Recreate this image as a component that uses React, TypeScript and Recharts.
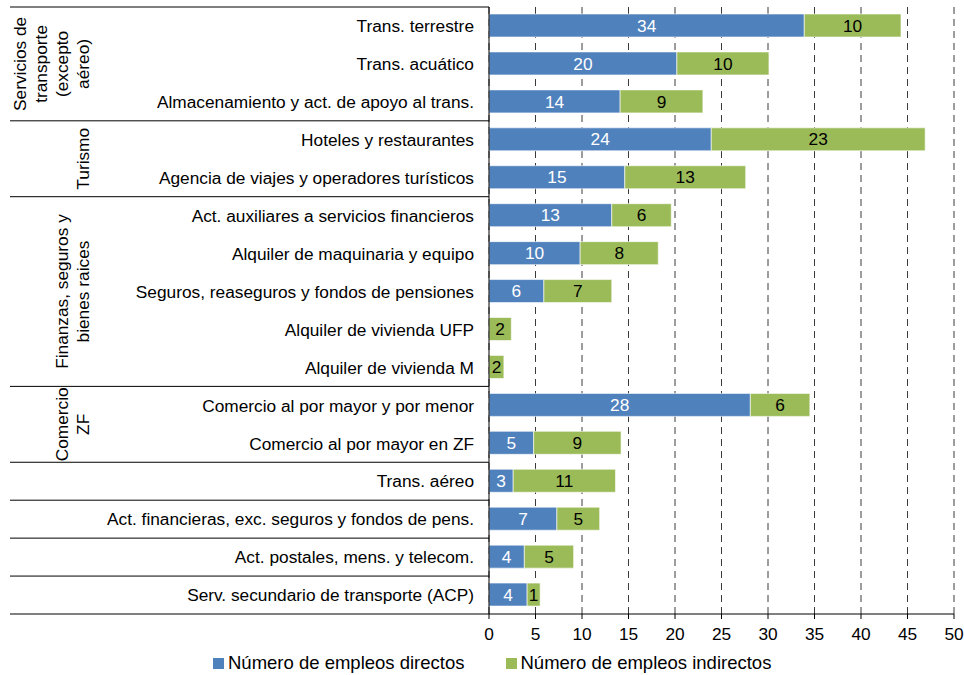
import React from 'react';
import { BarChart, Bar, XAxis, YAxis, CartesianGrid, LabelList } from 'recharts';

const categories = [
  'Trans. terrestre',
  'Trans. acuático',
  'Almacenamiento y act. de apoyo al trans.',
  'Hoteles y restaurantes',
  'Agencia de viajes y operadores turísticos',
  'Act. auxiliares a servicios financieros',
  'Alquiler de maquinaria y equipo ',
  'Seguros, reaseguros y fondos de pensiones',
  'Alquiler de vivienda UFP',
  'Alquiler de vivienda M',
  'Comercio al por mayor y por menor',
  'Comercio al por mayor en ZF',
  'Trans. aéreo',
  'Act. financieras, exc. seguros y fondos de pens.',
  'Act. postales, mens. y telecom.',
  'Serv. secundario de transporte (ACP)',
];
const directos = [33.9, 20.2, 14.1, 23.9, 14.6, 13.2, 9.8, 5.9, 0, 0, 28.1, 4.8, 2.6, 7.3, 3.8, 4.1];
const indirectos = [10.4, 9.9, 8.9, 23.0, 13.0, 6.4, 8.4, 7.3, 2.4, 1.6, 6.4, 9.4, 11.0, 4.6, 5.3, 1.4];

// outer level of the category axis
const groupLabels = [
  ['Servicios de', 'transporte', '(excepto', 'aéreo)'],
  ['Turismo'],
  ['Finanzas, seguros y', 'bienes raices'],
  ['Comercio', 'ZF'],
  [],
  [],
  [],
  [],
];
const groupSizes = [3, 2, 5, 2, 1, 1, 1, 1];

const xTicks = [0, 5, 10, 15, 20, 25, 30, 35, 40, 45, 50];
const seriesNames = ['Número de empleos directos', 'Número de empleos indirectos'];

const BLUE = '#4F81BD';
const GREEN = '#9BBB59';

const W = 964;
const H = 675;
const MARGIN = { top: 7, right: 10, bottom: 31, left: 0 };
const Y_AXIS_W = 489;
const X_AXIS_H = 30;
const PLOT_H = H - MARGIN.top - MARGIN.bottom - X_AXIS_H;
const BAND = PLOT_H / categories.length;
const LINE_LEFT = 10;
const GROUP_BASE_X = 89;
const GROUP_LH = 21;
const FONT = 17.3;

const data = categories.map((name, i) => ({
  name,
  directos: directos[i],
  indirectos: indirectos[i],
}));

// index of first row of each group
const groupStart: number[] = [];
groupSizes.reduce((acc, n) => {
  groupStart.push(acc);
  return acc + n;
}, 0);

function CategoryTick(props: any) {
  const { x, y, payload } = props;
  const i: number = payload?.index ?? props.index;
  const gi = groupStart.findIndex((s, k) => i >= s && i < s + groupSizes[k]);
  const isFirst = groupStart[gi] === i;
  const isLast = groupStart[gi] + groupSizes[gi] - 1 === i;
  const lines = groupLabels[gi] ?? [];
  const groupCenter = y - BAND / 2 + (groupSizes[gi] * BAND) / 2;

  return (
    <g>
      <text x={x} y={y} dy="0.36em" textAnchor="end" fontSize={FONT} fill="#000">
        {payload.value}
      </text>
      {i === 0 && (
        <line x1={LINE_LEFT} x2={Y_AXIS_W} y1={y - BAND / 2} y2={y - BAND / 2} stroke="#000" strokeWidth={1} />
      )}
      {isLast && (
        <line x1={LINE_LEFT} x2={Y_AXIS_W} y1={y + BAND / 2} y2={y + BAND / 2} stroke="#000" strokeWidth={1} />
      )}
      {isFirst && lines.length > 0 && (
        <text
          transform={`translate(${GROUP_BASE_X}, ${groupCenter}) rotate(-90)`}
          textAnchor="middle"
          fontSize={FONT}
          fill="#000"
        >
          {lines.map((l, k) => (
            <tspan key={k} x={0} dy={k === 0 ? -(lines.length - 1) * GROUP_LH : GROUP_LH}>
              {l}
            </tspan>
          ))}
        </text>
      )}
    </g>
  );
}

const fmt = (v: any) => (Number(v) > 0.5 ? Math.round(Number(v)) : '');

export default function App() {
  return (
    <div
      style={{
        position: 'absolute',
        left: 0,
        top: 0,
        width: W,
        height: H,
        background: '#fff',
        fontFamily: '"Liberation Sans", Arial, sans-serif',
      }}
    >
      <BarChart width={W} height={H} data={data} layout="vertical" margin={MARGIN} barSize={23}>
        <CartesianGrid horizontal={false} stroke="#3a3a3a" strokeDasharray="7 5" />
        <XAxis
          type="number"
          domain={[0, 50]}
          ticks={xTicks}
          interval={0}
          height={X_AXIS_H}
          axisLine={{ stroke: '#000' }}
          tickLine={{ stroke: '#000' }}
          tickSize={5}
          tickMargin={9}
          tick={{ fontSize: FONT, fill: '#000' }}
        />
        <YAxis
          type="category"
          dataKey="name"
          width={Y_AXIS_W}
          interval={0}
          axisLine={{ stroke: '#000' }}
          tickLine={false}
          tickSize={0}
          tickMargin={15}
          tick={<CategoryTick />}
        />
        <Bar dataKey="directos" stackId="a" fill={BLUE} stroke="#fff" strokeWidth={0.6} isAnimationActive={false}>
          <LabelList dataKey="directos" position="center" fill="#fff" fontSize={FONT} formatter={fmt} />
        </Bar>
        <Bar dataKey="indirectos" stackId="a" fill={GREEN} stroke="#fff" strokeWidth={0.6} isAnimationActive={false}>
          <LabelList dataKey="indirectos" position="center" fill="#000" fontSize={FONT} formatter={fmt} />
        </Bar>
      </BarChart>
      <div
        style={{
          position: 'absolute',
          left: 213,
          top: 652,
          display: 'flex',
          alignItems: 'center',
          fontSize: 18.5,
          color: '#000',
          whiteSpace: 'nowrap',
        }}
      >
        {seriesNames.map((n, k) => (
          <div key={n} style={{ display: 'flex', alignItems: 'center', marginRight: k === 0 ? 41 : 0 }}>
            <span style={{ display: 'inline-block', width: 11, height: 11, background: k === 0 ? BLUE : GREEN, marginRight: 4 }} />
            <span>{n}</span>
          </div>
        ))}
      </div>
    </div>
  );
}
